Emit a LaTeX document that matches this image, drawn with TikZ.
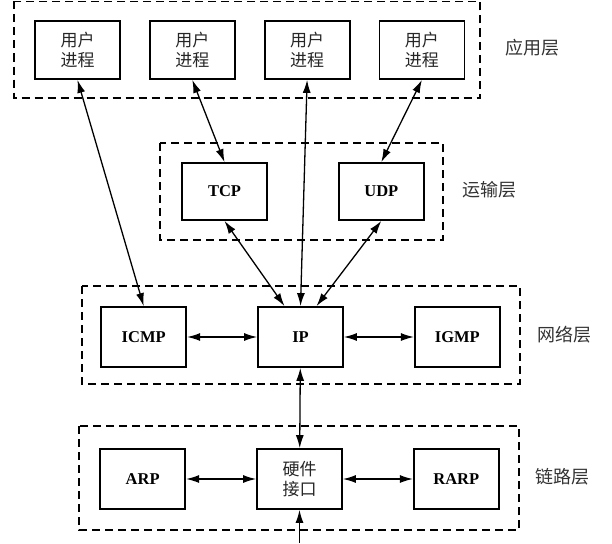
\documentclass[tikz,border=0pt]{standalone}
\usepackage{fontspec}
\setmainfont{Liberation Serif}
\newfontfamily\cjk{Noto Sans CJK SC}
\usetikzlibrary{arrows.meta, positioning}

\begin{document}
\begin{tikzpicture}[x=1pt, y=-1pt, >={Latex[length=13pt, width=8pt]},
    box/.style={draw, line width=1.8pt, minimum width=85pt, minimum height=58pt, inner sep=0pt, align=center},
    proc/.style={box, font=\cjk\fontsize{17}{20}\selectfont, text=black!85},
    proto/.style={box, minimum height=60pt, font=\bfseries\fontsize{16.5}{19}\selectfont},
    layer/.style={draw, line width=1.5pt, dash pattern=on 8pt off 5pt},
    lab/.style={font=\cjk\fontsize{18}{21}\selectfont, text=black!80},
    arr/.style={<->, line width=1.3pt}]
    \useasboundingbox (0,0) rectangle (612,543);
    % layers
    \draw[layer] (14,1.5) rectangle (480,98);
    \draw[layer] (160,143) rectangle (443,240);
    \draw[layer] (82,286) rectangle (520,384);
    \draw[layer] (79,426) rectangle (519,530);
    \node[lab] (lapp) at (532,48) {应用层};
    \node[lab] (ltrans) at (489,190) {运输层};
    \node[lab] (lnet) at (564,335) {网络层};
    \node[lab] (llink) at (562,477) {链路层};
    % boxes
    \node[proc] (u1) at (77.5,50) {用户\\进程};
    \node[proc, right=28pt of u1] (u2) {用户\\进程};
    \node[proc, right=28pt of u2] (u3) {用户\\进程};
    \node[proc, right=28pt of u3] (u4) {用户\\进程};
    \node[proto, minimum height=57pt] (tcp) at (224.5,191.5) {TCP};
    \node[proto, minimum height=57pt, right=70pt of tcp] (udp) {UDP};
    \node[proto] (ip) at (300.5,337) {IP};
    \node[proto, left=70pt of ip] (icmp) {ICMP};
    \node[proto, right=70pt of ip] (igmp) {IGMP};
    \node[proc, minimum height=60pt] (hw) at (299.5,479) {硬件\\接口};
    \node[proto, left=70pt of hw] (arp) {ARP};
    \node[proto, right=70pt of hw] (rarp) {RARP};
    \coordinate (wire) at (299.5,543);
    % links
    \draw[arr] (u1.south) -- (icmp.north);
    \draw[arr] (u2.south) -- (tcp.north);
    \draw[arr] (u3.south) -- (ip.north);
    \draw[arr] (u4.south) -- (udp.north);
    \draw[arr] (tcp.south) -- ([xshift=-16pt]ip.north);
    \draw[arr] (udp.south) -- ([xshift=16pt]ip.north);
    \draw[arr] (icmp) -- (ip);
    \draw[arr] (ip) -- (igmp);
    \draw[arr] (ip) -- (hw);
    \draw[arr] (arp) -- (hw);
    \draw[arr] (hw) -- (rarp);
    \draw[arr, <-] (hw) -- (wire);
\end{tikzpicture}
\end{document}
